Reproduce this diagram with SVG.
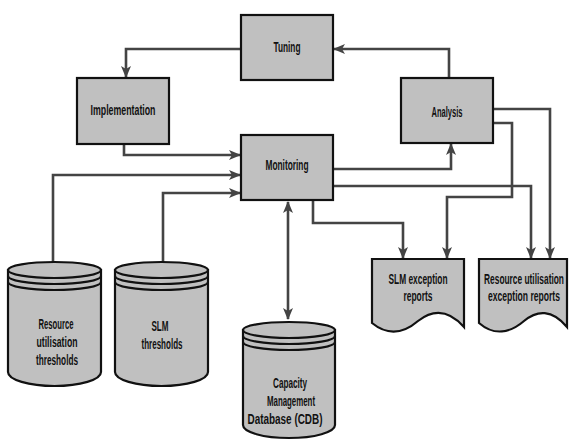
<svg xmlns="http://www.w3.org/2000/svg" width="569" height="441" viewBox="0 0 569 441">
<style>
.box{fill:#c0c0c0;stroke:#111;stroke-width:2.2}
.shape{fill:#c0c0c0;stroke:#111;stroke-width:2.2}
.band{fill:none;stroke:#111;stroke-width:2.2}
.con{fill:none;stroke:#444;stroke-width:2.6}
text{font-family:"Liberation Sans",Arial,sans-serif;font-weight:bold;font-size:14.5px;fill:#111;text-anchor:middle}
</style>
<defs>
<marker id="ah" markerUnits="userSpaceOnUse" viewBox="0 0 12 10" markerWidth="12" markerHeight="10" refX="11" refY="5" orient="auto-start-reverse">
<path d="M0,0 L12,5 L0,10 L3,5 Z" fill="#444"/>
</marker>
</defs>
<rect width="569" height="441" fill="#fff"/>
<g id="connectors">
<path class="con" d="M241,49 H126 V77" marker-end="url(#ah)"/>
<path class="con" d="M449,78 V49 H334" marker-end="url(#ah)"/>
<path class="con" d="M124,144 V155 H240" marker-end="url(#ah)"/>
<path class="con" d="M53,262 V175 H240" marker-end="url(#ah)"/>
<path class="con" d="M163,262 V193 H240" marker-end="url(#ah)"/>
<path class="con" d="M333,169 H451 V144" marker-end="url(#ah)"/>
<path class="con" d="M333,186 H531 V258" marker-end="url(#ah)"/>
<path class="con" d="M493,109 H550 V258" marker-end="url(#ah)"/>
<path class="con" d="M493,123 H512 V197 H447 V258" marker-end="url(#ah)"/>
<path class="con" d="M313,200 V223 H403 V258" marker-end="url(#ah)"/>
<path class="con" d="M288,202 V319" marker-start="url(#ah)" marker-end="url(#ah)"/>
</g>
<g id="tuning">
<rect class="box" x="241" y="15" width="92" height="65"/>
<text x="287" y="52" textLength="27" lengthAdjust="spacingAndGlyphs">Tuning</text>
</g>
<g id="implementation">
<rect class="box" x="77" y="78" width="92" height="66"/>
<text x="123" y="115" textLength="65" lengthAdjust="spacingAndGlyphs">Implementation</text>
</g>
<g id="monitoring">
<rect class="box" x="241" y="135" width="92" height="65"/>
<text x="287" y="170" textLength="43" lengthAdjust="spacingAndGlyphs">Monitoring</text>
</g>
<g id="analysis">
<rect class="box" x="401" y="78" width="92" height="65"/>
<text x="447" y="117" textLength="31" lengthAdjust="spacingAndGlyphs">Analysis</text>
</g>
<g id="resource-thresholds">
<path class="shape" d="M8,270 V372 A46.5,14 0 0 0 101,372 V270 Z"/>
<ellipse class="shape" cx="54.5" cy="270" rx="46.5" ry="8"/>
<path class="band" d="M8,276 A46.5,8 0 0 0 101,276 M8,282 A46.5,8 0 0 0 101,282"/>
<text x="56" y="329" textLength="35" lengthAdjust="spacingAndGlyphs">Resource</text>
<text x="57" y="347" textLength="41" lengthAdjust="spacingAndGlyphs">utilisation</text>
<text x="57" y="365" textLength="42" lengthAdjust="spacingAndGlyphs">thresholds</text>
</g>
<g id="slm-thresholds">
<path class="shape" d="M115,270 V372 A46.5,14 0 0 0 208,372 V270 Z"/>
<ellipse class="shape" cx="161.5" cy="270" rx="46.5" ry="8"/>
<path class="band" d="M115,276 A46.5,8 0 0 0 208,276 M115,282 A46.5,8 0 0 0 208,282"/>
<text x="160" y="331" textLength="17" lengthAdjust="spacingAndGlyphs">SLM</text>
<text x="162" y="349" textLength="41" lengthAdjust="spacingAndGlyphs">thresholds</text>
</g>
<g id="cdb">
<path class="shape" d="M243,330 V425 A46,13 0 0 0 335,425 V330 Z"/>
<ellipse class="shape" cx="289" cy="330" rx="46" ry="8"/>
<path class="band" d="M243,336 A46,8 0 0 0 335,336 M243,342 A46,8 0 0 0 335,342"/>
<text x="290" y="388" textLength="34" lengthAdjust="spacingAndGlyphs">Capacity</text>
<text x="291" y="406" textLength="48" lengthAdjust="spacingAndGlyphs">Management</text>
<text x="285" y="424" textLength="75" lengthAdjust="spacingAndGlyphs">Database (CDB)</text>
</g>
<g id="slm-reports">
<path class="shape" d="M372,259 H464 V327 C448,309 432,310 418,321 C404,333 388,336 372,323 Z"/>
<text x="418" y="284" textLength="59" lengthAdjust="spacingAndGlyphs">SLM exception</text>
<text x="418" y="301" textLength="29" lengthAdjust="spacingAndGlyphs">reports</text>
</g>
<g id="resource-reports">
<path class="shape" d="M479,259 H567 V327 C552,309 537,310 524,321 C510,333 494,336 479,323 Z"/>
<text transform="translate(524,284) scale(0.577,1)">Resource utilisation</text>
<text transform="translate(524,301) scale(0.592,1)">exception reports</text>
</g>
</svg>
